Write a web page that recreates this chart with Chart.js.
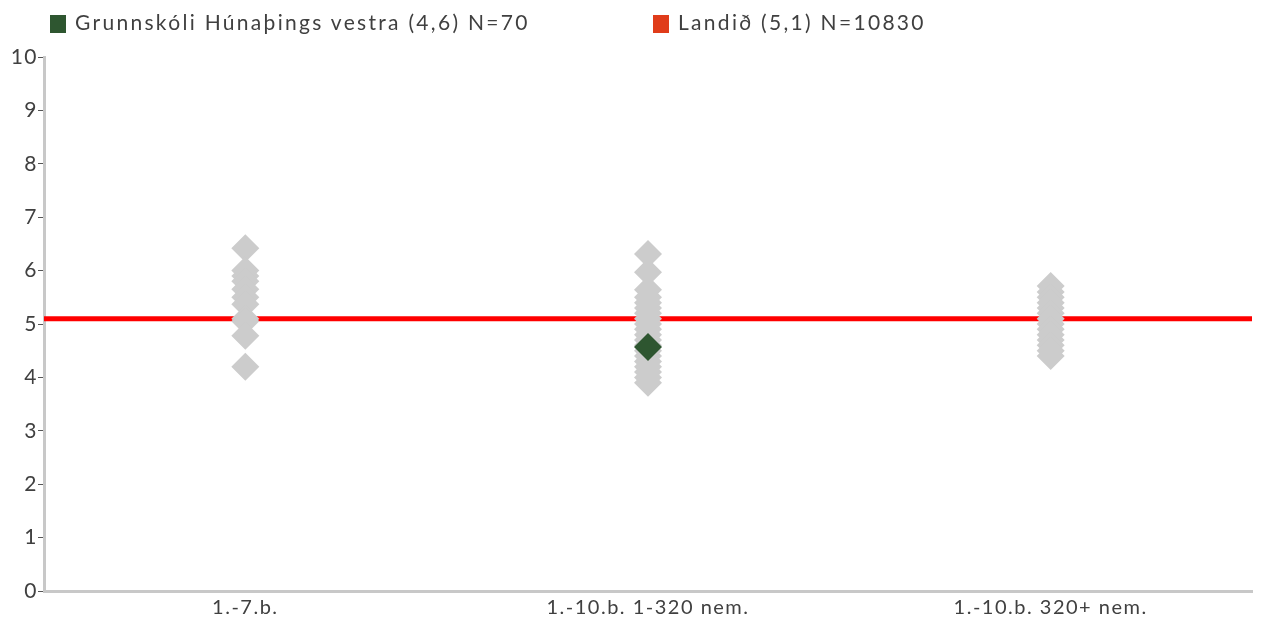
<!DOCTYPE html>
<html>
<head>
<meta charset="utf-8">
<script src="https://cdn.jsdelivr.net/npm/chart.js@4.4.1/dist/chart.umd.min.js"></script>
<style>
body{margin:0;background:#fff;font-family:Lato,sans-serif;}
#wrap{position:relative;width:1269px;height:620px;}
#legend{position:absolute;left:0;top:0;height:46px;font-size:21px;color:#404040;letter-spacing:2.3px;}
.item{position:absolute;top:10px;white-space:nowrap;line-height:24px;}
.box{display:inline-block;width:16px;height:18px;vertical-align:-3px;margin-right:9px;}
</style>
</head>
<body>
<div id="wrap">
<div id="legend">
  <div class="item" style="left:50px"><span class="box" style="background:#2e5630"></span>Grunnskóli Húnaþings vestra (4,6) N=70</div>
  <div class="item" style="left:653px"><span class="box" style="background:#e03c1a"></span>Landið (5,1) N=10830</div>
</div>
<canvas id="chart" width="1269" height="620"></canvas>
</div>
<script>
// Flokkar
const categories=["1.-7.b.","1.-10.b. 1-320 nem.","1.-10.b. 320+ nem."];
const yTicks=[0,1,2,3,4,5,6,7,8,9,10];

// Aðrir skólar (gráir)
const schools17=[6.42,6.0,5.9,5.8,5.65,5.5,5.37,5.1,5.05,4.78,4.2];
const schools110small=[6.31,5.97,5.64,5.5,5.4,5.3,5.2,5.1,5.0,4.9,4.8,4.7,4.6,4.5,4.4,4.3,4.2,4.1,4.0,3.9];
const schools110large=[5.71,5.6,5.5,5.4,5.3,5.2,5.1,5.0,4.9,4.8,4.7,4.6,4.5,4.4];

// Skólinn og landið
const schoolCat=1;
const schoolValue=4.57;
const nationalValue=5.1;

const grayPoints=[];
[schools17,schools110small,schools110large].forEach((arr,i)=>{
  arr.forEach(v=>grayPoints.push({x:i,y:v}));
});

// bil milli stafa eins og í fyrirmyndinni
const spacingPlugin={id:'spacing',beforeDraw:c=>{c.ctx.letterSpacing='1.5px';}};

const ctx=document.getElementById("chart").getContext("2d");
new Chart(ctx,{
  type:'scatter',
  data:{datasets:[
    {label:'Grunnskóli Húnaþings vestra',data:[{x:schoolCat,y:schoolValue}],pointStyle:'rectRot',pointRadius:14,
     backgroundColor:'#2e5630',borderWidth:0,order:0},
    {label:'Aðrir',data:grayPoints,pointStyle:'rectRot',pointRadius:14,backgroundColor:'#cccccc',borderWidth:0,order:1},
    {label:'Landið',type:'line',data:[{x:-0.5,y:nationalValue},{x:2.5,y:nationalValue}],borderColor:'#ff0000',
     borderWidth:5,pointRadius:0,fill:false,order:2}
  ]},
  options:{
    responsive:false,animation:false,
    layout:{padding:{top:57,right:17,left:0,bottom:0}},
    plugins:{legend:{display:false},tooltip:{enabled:false}},
    scales:{
      x:{type:'linear',min:-0.5,max:2.5,
        afterBuildTicks:s=>{s.ticks=categories.map((c,i)=>({value:i}));},
        afterFit:s=>{s.height=29;},
        ticks:{callback:v=>categories[v],font:{family:'Lato',size:20},color:'#404040',padding:5,maxRotation:0},
        grid:{display:false,drawTicks:false},
        border:{display:true,color:'#c8c8c8',width:3}
      },
      y:{min:0,max:10,
        afterBuildTicks:s=>{s.ticks=yTicks.map(v=>({value:v}));},
        afterFit:s=>{s.width=44;},
        ticks:{font:{family:'Lato',size:21},color:'#404040',padding:0},
        grid:{display:true,drawOnChartArea:false,drawTicks:true,tickLength:6,color:'#555555',tickWidth:1},
        border:{display:true,color:'#c8c8c8',width:3}
      }
    }
  },
  plugins:[spacingPlugin]
});
</script>
</body>
</html>
